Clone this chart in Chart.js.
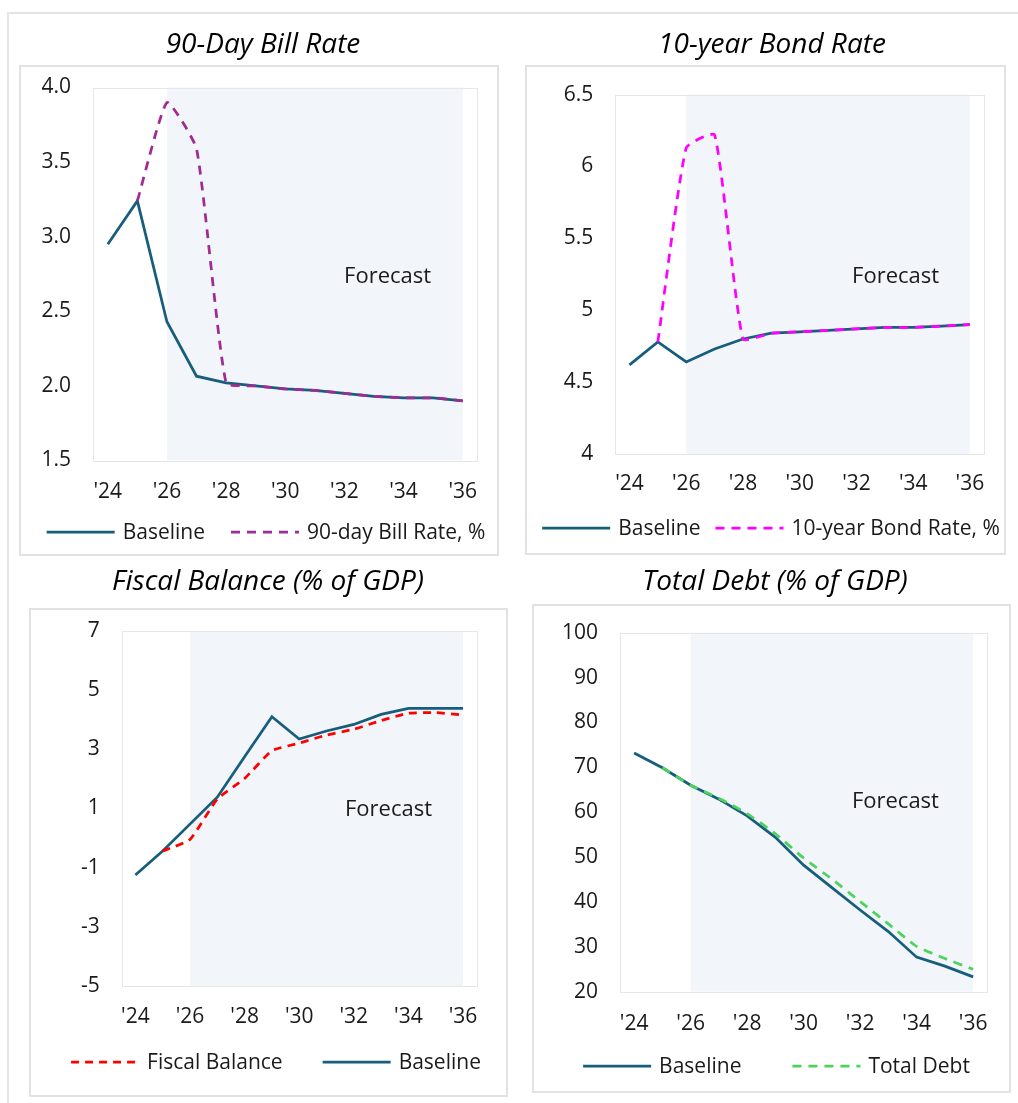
<!DOCTYPE html>
<html>
<head>
<meta charset="utf-8">
<title>Economic outlook: rates, fiscal balance and debt</title>
<script src="https://cdn.jsdelivr.net/npm/chart.js@4.4.1/dist/chart.umd.min.js"></script>
<style>
  html, body { margin: 0; padding: 0; background: #ffffff; width: 1018px; height: 1103px; overflow: hidden; }
  .frame { position: absolute; left: 7px; top: 12px; width: 1030px; height: 1110px;
           border-left: 2px solid #e4e4e4; border-top: 2px solid #e4e4e4; }
  .box { position: absolute; border: 2px solid #e2e2e2; box-sizing: border-box; }
  canvas.cv { position: absolute; }
</style>
</head>
<body>
<div class="frame"></div>
<div class="box" id="box1"></div>
<div class="box" id="box2"></div>
<div class="box" id="box3"></div>
<div class="box" id="box4"></div>
<canvas class="cv" id="c1"></canvas>
<canvas class="cv" id="c2"></canvas>
<canvas class="cv" id="c3"></canvas>
<canvas class="cv" id="c4"></canvas>
<script>
// ---- Data -------------------------------------------------------------
const years = ["'24", "'25", "'26", "'27", "'28", "'29", "'30", "'31", "'32", "'33", "'34", "'35", "'36"];

// 90-day bill rate, %
const billBaseline = [2.95, 3.24, 2.43, 2.065, 2.02, 2.00, 1.98, 1.97, 1.95, 1.93, 1.92, 1.92, 1.90];
const billScenario = [null, 3.24, 3.90, 3.59, 2.02, 2.00, 1.98, 1.97, 1.95, 1.93, 1.92, 1.92, 1.90];
const billTicks = [1.5, 2.0, 2.5, 3.0, 3.5, 4.0];

// 10-year bond rate, %
const bondBaseline = [4.62, 4.78, 4.64, 4.73, 4.80, 4.84, 4.85, 4.86, 4.87, 4.88, 4.88, 4.89, 4.90];
const bondScenario = [null, 4.78, 6.13, 6.22, 4.80, 4.84, 4.85, 4.86, 4.87, 4.88, 4.88, 4.89, 4.90];
const bondTicks = [4, 4.5, 5, 5.5, 6, 6.5];

// Fiscal balance, % of GDP
const fiscalScenario = [null, -0.44, -0.05, 1.32, 2.01, 2.95, 3.21, 3.48, 3.68, 3.97, 4.22, 4.24, 4.16];
const fiscalBaseline = [-1.25, -0.44, 0.47, 1.38, 2.75, 4.10, 3.35, 3.62, 3.84, 4.18, 4.38, 4.38, 4.38];
const fiscalTicks = [-5, -3, -1, 1, 3, 5, 7];

// Total debt, % of GDP
const debtBaseline = [73.2, 69.9, 66.0, 62.9, 59.2, 54.4, 48.2, 43.2, 38.2, 33.4, 27.7, 25.7, 23.3];
const debtScenario = [null, 69.9, 66.0, 63.1, 59.7, 55.2, 49.8, 45.1, 40.1, 35.1, 30.1, 27.4, 25.0];
const debtTicks = [20, 30, 40, 50, 60, 70, 80, 90, 100];

const forecastLabel = 'Forecast';
const forecastStart = 2;   // index of '26
const forecastEnd = 12;    // index of '36

// ---- Styling ----------------------------------------------------------
const BASE_COLOR = '#175d7c';
const TEXT = '#1a1a1a';
const FONT = "'Open Sans', 'Noto Sans', sans-serif";
Chart.defaults.font.family = FONT;
Chart.defaults.color = TEXT;

// Shaded forecast band, plot-area outline and the "Forecast" note
const forecastBand = {
  id: 'forecastBand',
  beforeDatasetsDraw(chart, args, opts) {
    const { ctx, chartArea: a, scales: { x, y } } = chart;
    ctx.save();
    const x0 = x.getPixelForValue(forecastStart);
    const x1 = x.getPixelForValue(forecastEnd);
    ctx.fillStyle = '#f2f5f9';
    ctx.fillRect(x0, a.top, x1 - x0, a.bottom - a.top);
    ctx.strokeStyle = '#e6e6e6';
    ctx.lineWidth = 1;
    ctx.strokeRect(Math.round(a.left) + 0.5, Math.round(a.top) + 0.5,
                   Math.round(a.right - a.left), Math.round(a.bottom - a.top));
    ctx.fillStyle = TEXT;
    ctx.font = "22px " + FONT;
    ctx.textAlign = 'center';
    ctx.textBaseline = 'middle';
    ctx.fillText(forecastLabel, x.getPixelForValue(opts.at[0]), y.getPixelForValue(opts.at[1]));
    ctx.restore();
  }
};

// Single-row legend with long line samples, centred on a given point
const lineLegend = {
  id: 'lineLegend',
  afterDraw(chart, args, opts) {
    const { ctx } = chart;
    const sample = 68, textGap = 8;
    ctx.save();
    ctx.font = "21px " + FONT;
    ctx.textBaseline = 'middle';
    ctx.textAlign = 'left';
    const items = chart.data.datasets.map(ds => ({ ds, w: ctx.measureText(ds.label).width }));
    const total = items.reduce((s, it) => s + sample + textGap + it.w, 0) + opts.gap * (items.length - 1);
    let x = opts.cx - total / 2;
    items.forEach(({ ds, w }) => {
      ctx.beginPath();
      ctx.strokeStyle = ds.borderColor;
      ctx.lineWidth = ds.borderWidth;
      ctx.lineCap = 'butt';
      ctx.setLineDash(ds.borderDash || []);
      ctx.moveTo(x, opts.cy);
      ctx.lineTo(x + sample, opts.cy);
      ctx.stroke();
      ctx.setLineDash([]);
      ctx.fillStyle = TEXT;
      ctx.fillText(ds.label, x + sample + textGap, opts.cy + 1);
      x += sample + textGap + w + opts.gap;
    });
    ctx.restore();
  }
};

function solidSeries(label, data) {
  return { label, data, borderColor: BASE_COLOR, backgroundColor: BASE_COLOR,
           borderWidth: 2.75, pointRadius: 0, tension: 0, order: 1 };
}
function dashedSeries(label, data, color, dash) {
  return { label, data, borderColor: color, backgroundColor: color,
           borderWidth: 2.75, borderDash: dash, pointRadius: 0, tension: 0.15, order: 0 };
}

function makeChart(cfg) {
  const cv = document.getElementById(cfg.id);
  cv.width = cfg.w; cv.height = cfg.h;
  cv.style.left = cfg.left + 'px'; cv.style.top = cfg.top + 'px';
  const bx = document.getElementById(cfg.box);
  bx.style.left = cfg.boxRect[0] + 'px'; bx.style.top = cfg.boxRect[1] + 'px';
  bx.style.width = (cfg.boxRect[2] - cfg.boxRect[0]) + 'px';
  bx.style.height = (cfg.boxRect[3] - cfg.boxRect[1]) + 'px';

  return new Chart(cv, {
    type: 'line',
    data: { labels: years, datasets: cfg.datasets },
    plugins: [forecastBand, lineLegend],
    options: {
      responsive: false,
      animation: false,
      devicePixelRatio: 1,
      layout: { padding: { left: cfg.padL, right: cfg.padR, top: 0, bottom: cfg.padB } },
      plugins: {
        forecastBand: { at: cfg.noteAt },
        lineLegend: { cx: cfg.legend[0], cy: cfg.legend[1], gap: cfg.legend[2] },
        tooltip: { enabled: false },
        legend: { display: false },
        title: {
          display: true, text: cfg.title, color: '#000000',
          font: { size: 28, style: 'italic', weight: 'normal', lineHeight: 1.2 },
          padding: { top: cfg.titleTop, bottom: cfg.titleBottom }
        }
      },
      scales: {
        x: {
          offset: true,
          grid: { display: false, drawTicks: false },
          border: { display: false },
          ticks: {
            autoSkip: false, maxRotation: 0, padding: cfg.xPad,
            font: { size: 21, lineHeight: 1 }, color: TEXT,
            callback: (v, i) => (i % 2 === 0 ? years[i] : '')
          },
          afterFit: s => { s.height = cfg.xPad + 25; }
        },
        y: {
          min: cfg.ticks[0], max: cfg.ticks[cfg.ticks.length - 1],
          afterBuildTicks: s => { s.ticks = cfg.ticks.map(v => ({ value: v })); },
          grid: { display: false, drawTicks: false },
          border: { display: false },
          ticks: { padding: 22, font: { size: 21 }, color: TEXT, callback: cfg.fmt },
          afterFit: s => { s.width = cfg.yW; }
        }
      }
    }
  });
}

// title block: top pad + 28*1.2 + bottom pad = chart-area top
makeChart({
  id: 'c1', box: 'box1', left: 19, top: 20, w: 480, h: 536,
  boxRect: [19, 65, 499, 556],
  padL: 21, padR: 13, padB: 49, yW: 53, xPad: 21.5,
  titleTop: 8.2, titleBottom: 25.7,
  title: '90-Day Bill Rate',
  ticks: billTicks, fmt: v => Number(v).toFixed(1),
  noteAt: [9.46, 2.73],
  legend: [247, 512, 26],
  datasets: [
    solidSeries('Baseline', billBaseline),
    dashedSeries('90-day Bill Rate, %', billScenario, '#a02b93', [9, 7])
  ]
});

makeChart({
  id: 'c2', box: 'box2', left: 525, top: 20, w: 480, h: 535,
  boxRect: [525, 65, 1006, 555],
  padL: 33.7, padR: 19.7, padB: 56, yW: 56.6, xPad: 20,
  titleTop: 8.2, titleBottom: 32.8,
  title: '10-year Bond Rate',
  ticks: bondTicks, fmt: v => String(v),
  noteAt: [9.38, 5.23],
  legend: [246, 508, 15],
  datasets: [
    solidSeries('Baseline', bondBaseline),
    dashedSeries('10-year Bond Rate, %', bondScenario, '#ff00ff', [9, 7])
  ]
});

makeChart({
  id: 'c3', box: 'box3', left: 29, top: 560, w: 478, h: 537,
  boxRect: [29, 608, 508, 1097],
  padL: 30.3, padR: 30.3, padB: 65, yW: 62.4, xPad: 21.1,
  titleTop: 5.2, titleBottom: 32.2,
  title: 'Fiscal Balance (% of GDP)',
  ticks: fiscalTicks, fmt: v => String(v),
  noteAt: [9.27, 0.96],
  legend: [247, 502, 40],
  datasets: [
    dashedSeries('Fiscal Balance', fiscalScenario, '#ff0000', [8, 6]),
    solidSeries('Baseline', fiscalBaseline)
  ]
});

makeChart({
  id: 'c4', box: 'box4', left: 532, top: 560, w: 478, h: 533,
  boxRect: [532, 604, 1011, 1093],
  padL: 28, padR: 20, padB: 54.5, yW: 60, xPad: 21.8,
  titleTop: 5.2, titleBottom: 33.9,
  title: 'Total Debt (% of GDP)',
  ticks: debtTicks, fmt: v => String(v),
  noteAt: [9.25, 62.4],
  legend: [244.5, 506, 51],
  datasets: [
    solidSeries('Baseline', debtBaseline),
    dashedSeries('Total Debt', debtScenario, '#4cd45a', [9, 7])
  ]
});
</script>
</body>
</html>
